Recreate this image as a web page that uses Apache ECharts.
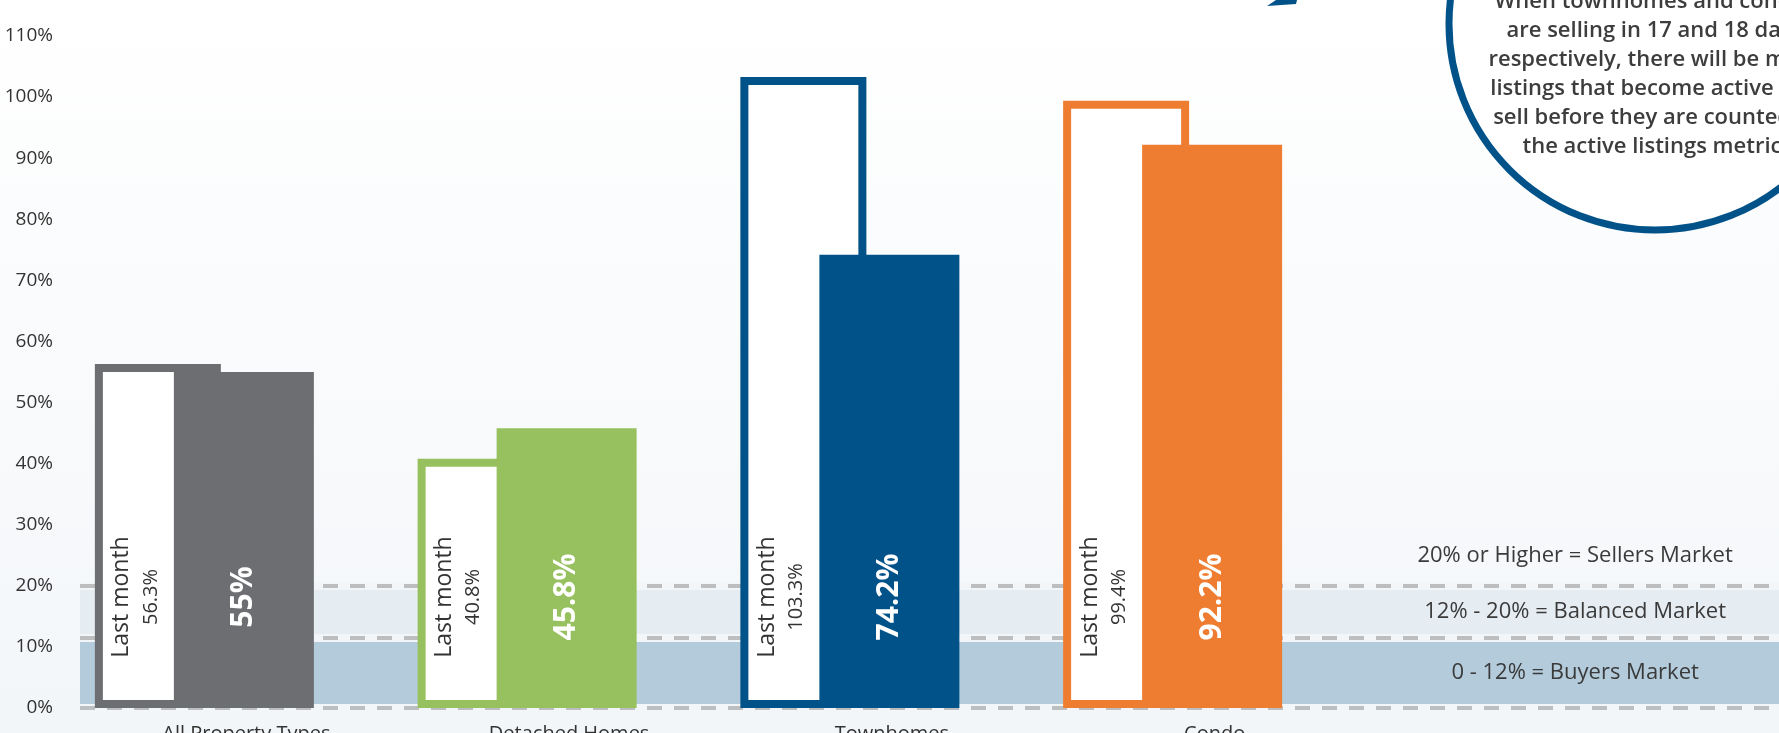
<!DOCTYPE html>
<html>
<head>
<meta charset="utf-8">
<script src="https://cdn.jsdelivr.net/npm/echarts@6/dist/echarts.min.js"></script>
<style>
html,body{margin:0;padding:0;width:1779px;height:733px;overflow:hidden;}
#chart{width:1779px;height:733px;}
</style>
</head>
<body>
<div id="chart"></div>
<script>
// ---- data ----
const categories = ['All Property Types', 'Detached Homes', 'Townhomes', 'Condo'];
const lastMonth = [56.3, 40.8, 103.3, 99.4];
const thisMonth = [55, 45.8, 74.2, 92.2];
const barColors = ['#6d6e71', '#97c05e', '#02528a', '#ee7d31'];
const yMin = 0, yMax = 110, yStep = 10;
const bandEdges = [0, 11.5, 20, 30];
const bandColors = ['#b3cbdb', '#e5ecf2', 'rgba(0,0,0,0)'];
const bandLabels = ['0 - 12% = Buyers Market', '12% - 20% = Balanced Market', '20% or Higher = Sellers Market'];
const lineLevels = [0, 11.5, 20];
const noteLines = [
  'When townhomes and condos',
  'are selling in 17 and 18 days',
  'respectively, there will be more',
  'listings that become active and',
  'sell before they are counted in',
  'the active listings metric.'
];

const FONT = '"Open Sans", "Noto Sans", sans-serif';
const chart = echarts.init(document.getElementById('chart'), null, {renderer: 'canvas'});

const bandAreas = [];
for (let i = 0; i < bandLabels.length; i++) {
  bandAreas.push([
    {
      yAxis: bandEdges[i],
      itemStyle: {color: bandColors[i]},
      label: {
        show: true,
        position: ['88%', '50%'],
        align: 'center',
        verticalAlign: 'middle',
        formatter: bandLabels[i],
        color: '#3a3a3a',
        fontSize: 22,
        fontFamily: FONT
      }
    },
    {yAxis: bandEdges[i + 1]}
  ]);
}

const option = {
  backgroundColor: {
    type: 'linear', x: 0, y: 0, x2: 0, y2: 1,
    colorStops: [{offset: 0, color: '#ffffff'}, {offset: 1, color: '#f3f6f9'}]
  },
  animation: false,
  grid: [
    {left: 43, width: 1291, top: 36, bottom: 25, containLabel: false, outerBoundsMode: 'none'},
    {left: 80, right: 0, top: 36, bottom: 25, containLabel: false, outerBoundsMode: 'none'}
  ],
  xAxis: [
    {
      type: 'category', gridIndex: 0, data: categories,
      axisLine: {show: false}, axisTick: {show: false},
      axisLabel: {
        margin: 16, color: '#333', fontSize: 20, fontFamily: FONT,
        padding: [0, 0, 0, 84]
      }
    },
    {type: 'value', gridIndex: 1, min: 0, max: 1, show: false}
  ],
  yAxis: [
    {type: 'value', gridIndex: 0, min: yMin, max: yMax, interval: yStep, show: false},
    {
      type: 'value', gridIndex: 1, min: yMin, max: yMax, interval: yStep,
      axisLine: {show: false}, axisTick: {show: false}, splitLine: {show: false},
      axisLabel: {formatter: '{value}%', color: '#333', fontSize: 19, margin: 27, fontFamily: FONT}
    }
  ],
  series: [
    {
      type: 'line', xAxisIndex: 1, yAxisIndex: 1, data: [], silent: true, z: 1,
      markArea: {silent: true, z: 1, data: bandAreas},
      markLine: {
        silent: true, z: 2, symbol: 'none', label: {show: false},
        lineStyle: {color: '#f3f6f9', width: 8, type: 'solid'},
        data: lineLevels.map(v => ({yAxis: v}))
      }
    },
    {
      type: 'line', xAxisIndex: 1, yAxisIndex: 1, data: [], silent: true, z: 2,
      markLine: {
        silent: true, z: 2, symbol: 'none', label: {show: false},
        lineStyle: {color: '#bdbec0', width: 4, type: [15, 12]},
        data: lineLevels.map(v => ({yAxis: v}))
      }
    },
    {
      name: 'Last month', type: 'bar', xAxisIndex: 0, yAxisIndex: 0, z: 3,
      barWidth: 126, barGap: '-37.3%',
      data: lastMonth.map((v, i) => ({
        value: v,
        itemStyle: {color: '#ffffff', borderColor: barColors[i], borderWidth: 8}
      })),
      label: {
        show: true, position: 'insideBottom', distance: 111, rotate: 90,
        align: 'center', verticalAlign: 'middle', offset: [0, -21.5],
        formatter: p => '{a|Last month}\n{b|' + p.value + '%}',
        rich: {
          a: {fontSize: 23, color: '#333', fontFamily: FONT, lineHeight: 29},
          b: {fontSize: 20, color: '#333', fontFamily: FONT, lineHeight: 29}
        }
      }
    },
    {
      name: 'This month', type: 'bar', xAxisIndex: 0, yAxisIndex: 0, z: 4,
      barWidth: 140,
      data: thisMonth.map((v, i) => ({value: v, itemStyle: {color: barColors[i]}})),
      label: {
        show: true, position: 'insideBottom', distance: 111, rotate: 90,
        align: 'center', verticalAlign: 'middle',
        formatter: p => p.value + '%',
        color: '#ffffff', fontSize: 30, fontWeight: 'bold', fontFamily: FONT
      }
    }
  ],
  graphic: [
    {
      type: 'polygon', z: 10, silent: true,
      shape: {points: [[1267, 6], [1276, 0], [1297, 0], [1296, 4]]},
      style: {fill: '#02528a'}
    },
    {
      type: 'circle', z: 10, silent: true,
      shape: {cx: 1655, cy: 24, r: 206},
      style: {fill: '#ffffff', stroke: '#02528a', lineWidth: 7}
    },
    {
      type: 'text', z: 11, silent: true, x: 1655, y: -13,
      style: {
        text: noteLines.join('\n'),
        align: 'center', verticalAlign: 'top',
        fill: '#3d3d3d', fontSize: 22, fontWeight: 600, fontFamily: FONT, lineHeight: 29
      }
    }
  ]
};
chart.setOption(option);
</script>
</body>
</html>
